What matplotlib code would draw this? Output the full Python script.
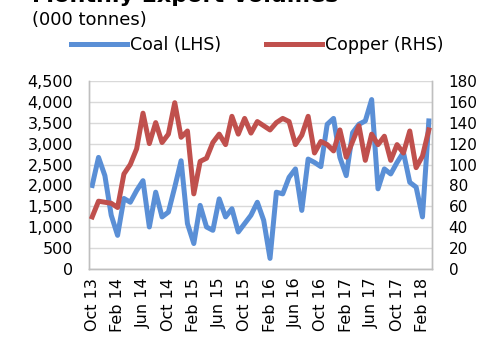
import matplotlib
matplotlib.use("Agg")
import matplotlib.pyplot as plt
import numpy as np

# Monthly series, Oct 2013 to Mar 2018
months = ["Oct 13", "Nov 13", "Dec 13", "Jan 14", "Feb 14", "Mar 14", "Apr 14", "May 14",
          "Jun 14", "Jul 14", "Aug 14", "Sep 14", "Oct 14", "Nov 14", "Dec 14", "Jan 15",
          "Feb 15", "Mar 15", "Apr 15", "May 15", "Jun 15", "Jul 15", "Aug 15", "Sep 15",
          "Oct 15", "Nov 15", "Dec 15", "Jan 16", "Feb 16", "Mar 16", "Apr 16", "May 16",
          "Jun 16", "Jul 16", "Aug 16", "Sep 16", "Oct 16", "Nov 16", "Dec 16", "Jan 17",
          "Feb 17", "Mar 17", "Apr 17", "May 17", "Jun 17", "Jul 17", "Aug 17", "Sep 17",
          "Oct 17", "Nov 17", "Dec 17", "Jan 18", "Feb 18", "Mar 18"]

coal = [2000, 2670, 2235, 1290, 810, 1690, 1600, 1880, 2115, 1010,
        1840, 1250, 1365, 1960, 2590, 1090, 615, 1525, 1010, 930,
        1680, 1250, 1445, 890, 1090, 1290, 1600, 1170, 260, 1840,
        1800, 2195, 2395, 1405, 2630, 2550, 2450, 3460, 3600, 2670,
        2235, 3260, 3460, 3540, 4050, 1920, 2395, 2275, 2550, 2790,
        2075, 1960, 1250, 3540]

copper = [50, 65, 64, 63, 59, 91, 100, 115, 149, 120,
          140, 121, 129, 159, 126, 132, 72, 103, 106, 121,
          129, 119, 146, 129, 144, 130, 141, 137, 133, 140,
          144, 141, 119, 128, 146, 111, 122, 119, 113, 133,
          107, 122, 137, 104, 129, 119, 127, 104, 119, 111,
          132, 97, 108, 133]

left_ticks = [0, 500, 1000, 1500, 2000, 2500, 3000, 3500, 4000, 4500]
right_ticks = [0, 20, 40, 60, 80, 100, 120, 140, 160, 180]

BLUE = "#5A8FD6"
RED = "#C0504D"
GRID = "#D9D9D9"
AXIS = "#BFBFBF"

plt.rcParams["font.family"] = ["DejaVu Sans"]

fig = plt.figure(figsize=(4.79, 3.37), dpi=100)
ax = fig.add_axes([89 / 479, 1 - 269.3 / 337, (432 - 89) / 479, (269.3 - 80.7) / 337])
ax2 = ax.twinx()

x = np.arange(len(months))
lc, = ax.plot(x, coal, color=BLUE, lw=3.6, solid_joinstyle="round", zorder=3)
lr, = ax2.plot(x, copper, color=RED, lw=3.6, solid_joinstyle="round", zorder=3)

ax.set_xlim(-0.5, len(months) - 0.5)
ax.set_ylim(0, 4500)
ax2.set_ylim(0, 180)
ax.set_yticks(left_ticks)
ax.set_yticklabels([f"{v:,}" for v in left_ticks])
ax2.set_yticks(right_ticks)
ax2.set_yticklabels([str(v) for v in right_ticks])

tick_idx = list(range(0, len(months), 4))
ax.set_xticks(tick_idx)
ax.set_xticklabels([months[i] for i in tick_idx], rotation=90, va="top", ha="center")

ax.grid(axis="y", color=GRID, lw=1.0)
ax.set_axisbelow(True)
for a in (ax, ax2):
    a.spines["top"].set_visible(False)
    for s in ("left", "right", "bottom"):
        a.spines[s].set_color(AXIS)
        a.spines[s].set_linewidth(1.0)
ax.tick_params(axis="y", length=0, pad=11.5, labelsize=11.5)
ax2.tick_params(axis="y", length=0, pad=12, labelsize=11)
ax.tick_params(axis="x", length=0, pad=6, labelsize=11.5)

# put the copper line on top of the coal line
ax2.set_zorder(ax.get_zorder() + 1)
ax2.patch.set_visible(False)

fig.text(32 / 479, 1 - 2 / 337, "Monthly Export Volumes", fontsize=16, fontweight="bold",
         ha="left", va="baseline")
fig.text(32 / 479, 1 - 25 / 337, "(000 tonnes)", fontsize=13, ha="left", va="baseline")

fig.legend([lc, lr], ["Coal (LHS)", "Copper (RHS)"], loc="center left",
           bbox_to_anchor=(71 / 479, 1 - 45 / 337), ncol=2, frameon=False,
           fontsize=12.5, handlelength=3.2, handletextpad=0.2, columnspacing=2.6,
           borderpad=0, borderaxespad=0)

fig.savefig("out.png", dpi=100)
